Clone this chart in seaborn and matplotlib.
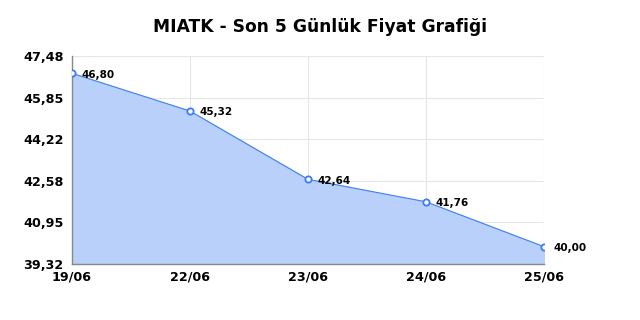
import matplotlib
matplotlib.use("Agg")
import matplotlib.pyplot as plt
import seaborn as sns
import pandas as pd

dates = ["19/06", "22/06", "23/06", "24/06", "25/06"]
prices = [46.80, 45.32, 42.64, 41.76, 40.00]
yticks = [39.32, 40.95, 42.58, 44.22, 45.85, 47.48]

sns.set_style("white")
plt.rcParams['font.family'] = ['DejaVu Sans']

df = pd.DataFrame({"idx": range(len(dates)), "price": prices})

fig = plt.figure(figsize=(6.4, 3.2), dpi=100)
ax = fig.add_axes([0.1125, 0.175, 0.7375, 0.65])

ax.fill_between(df["idx"], df["price"], yticks[0], color="#b8d0fa", zorder=1)
sns.lineplot(data=df, x="idx", y="price", ax=ax, color="#4080f2", linewidth=0.8,
             marker="o", markersize=4.5, markerfacecolor="white",
             markeredgecolor="#3b7cf0", markeredgewidth=1.3, zorder=3)

for i, p in enumerate(prices):
    ax.annotate(f"{p:.2f}".replace(".", ","), (i, p), xytext=(7, -1),
                textcoords="offset points", fontsize=7.5, fontweight="bold",
                va="center", ha="left", color="#000000")

ax.set_xlim(0, len(dates) - 1)
ax.set_ylim(yticks[0], yticks[-1])
ax.set_xticks(range(len(dates)))
ax.set_xticklabels(dates, fontsize=9.2, fontweight="bold", color="#000000")
ax.set_yticks(yticks)
ax.set_yticklabels([f"{t:.2f}".replace(".", ",") for t in yticks], fontsize=9.2,
                   fontweight="bold", color="#000000")
ax.tick_params(axis="x", length=0, pad=4.5)
ax.tick_params(axis="y", length=0, pad=6)
ax.grid(True, color="#e6e6e6", linewidth=0.8, zorder=0)
ax.set_axisbelow(True)
ax.set_xlabel("")
ax.set_ylabel("")
for s in ["top", "right"]:
    ax.spines[s].set_visible(False)
for s in ["left", "bottom"]:
    ax.spines[s].set_color("#888888")
    ax.spines[s].set_linewidth(1)

fig.suptitle("MIATK - Son 5 Günlük Fiyat Grafiği", fontsize=12.3, fontweight="bold",
             y=0.945, color="#000000")
fig.savefig("out.png", dpi=100)
